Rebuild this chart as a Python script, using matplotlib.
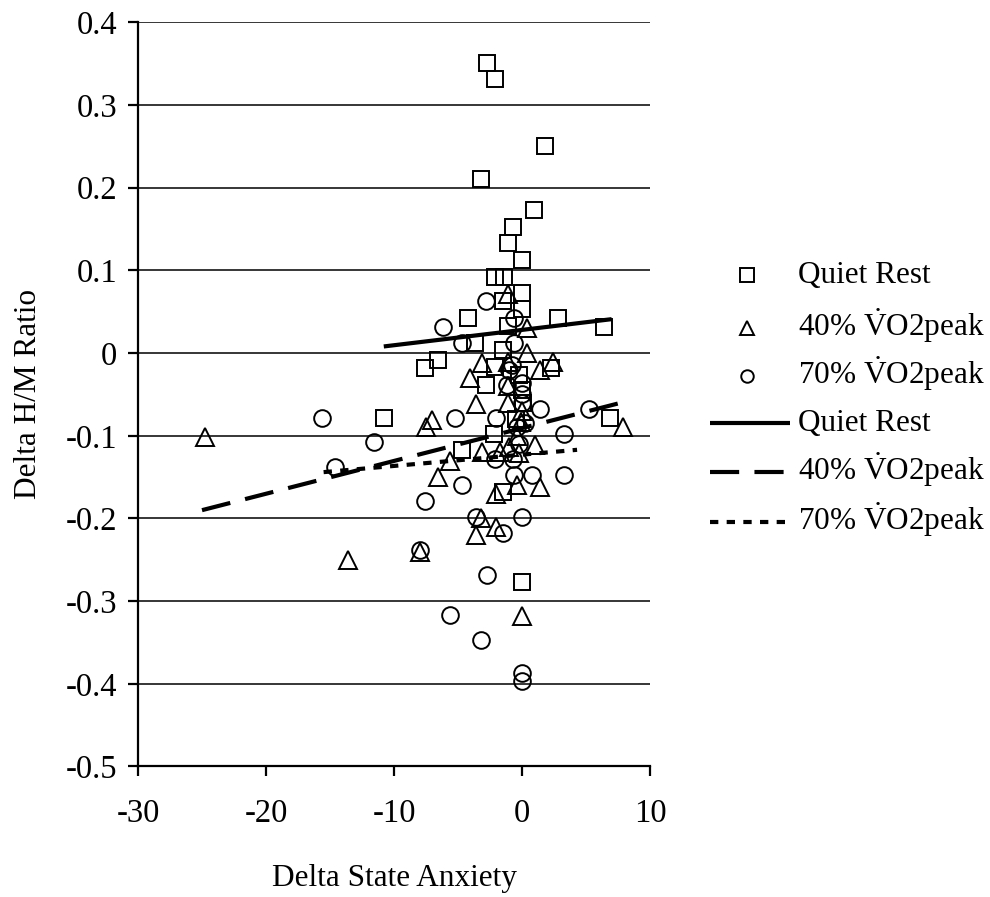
import numpy as np
import matplotlib
matplotlib.use("Agg")
import matplotlib.pyplot as plt
from matplotlib.lines import Line2D

plt.rcParams["font.family"] = ["Liberation Serif", "DejaVu Serif"]
plt.rcParams["mathtext.fontset"] = "custom"
plt.rcParams["mathtext.rm"] = "Liberation Serif"
plt.rcParams["mathtext.it"] = "Liberation Serif:italic"
plt.rcParams["lines.scale_dashes"] = False

# delta state anxiety (x) vs delta H/M ratio (y) per condition
rest_x = [-2.7, -2.1, -3.2, 1.8, 0.9, -0.7, -1.1, 0.0, -2.1, -1.4, 0.0, -1.5, 0.0,
          -4.2, 2.8, -1.1, 6.4, -3.7, -1.5, -6.6, -7.6, 2.3, -2.1, -2.8, -0.2,
          0.0, 0.1, -10.8, 6.9, -2.2, -4.7, -1.5, 0.0, -0.5]
rest_y = [0.351, 0.331, 0.210, 0.250, 0.173, 0.152, 0.133, 0.112, 0.092, 0.092,
          0.073, 0.063, 0.053, 0.042, 0.042, 0.033, 0.032, 0.012, 0.004, -0.008,
          -0.018, -0.018, -0.017, -0.039, -0.027, -0.045, -0.060, -0.079, -0.079,
          -0.098, -0.117, -0.168, -0.277, -0.080]

ex40_x = [-24.8, -13.6, 7.9, -8.0, 0.0, -3.6, -2.0, -3.2, -6.6, -5.6, -3.1, -2.0,
          -0.4, 1.4, -7.5, -7.0, 1.0, -1.0, -0.2, -1.1, 0.4, -3.1, 0.4, -4.1,
          -1.1, 1.4, 2.4, -3.6, -1.1, 0.0, -0.1, -0.4, -1.7, -1.1]
ex40_y = [-0.102, -0.250, -0.090, -0.240, -0.318, -0.220, -0.210, -0.200, -0.150,
          -0.130, -0.120, -0.170, -0.160, -0.162, -0.090, -0.081, -0.111, -0.113,
          -0.121, 0.071, 0.030, -0.012, 0.000, -0.030, -0.011, -0.020, -0.011,
          -0.061, -0.060, -0.070, -0.083, -0.100, -0.120, -0.040]

ex70_x = [-15.6, -11.6, -14.6, -7.6, -5.2, -4.7, -4.7, -2.8, -6.2, -0.6, -0.6,
          -0.8, -1.2, 0.0, -2.0, 1.4, 5.2, 3.3, 0.0, 0.0, 0.2, -0.4, -2.1, -0.7,
          -0.6, 0.8, 3.3, -3.6, 0.0, -1.5, -8.0, -2.7, -5.6, -3.2, 0.0, 0.0,
          -1.0, -0.2]
ex70_y = [-0.079, -0.108, -0.138, -0.179, -0.079, -0.160, 0.012, 0.063, 0.031,
          0.043, 0.012, -0.015, -0.039, -0.036, -0.079, -0.068, -0.068, -0.098,
          -0.050, -0.060, -0.085, -0.090, -0.128, -0.128, -0.148, -0.148, -0.148,
          -0.198, -0.198, -0.218, -0.238, -0.268, -0.317, -0.347, -0.387, -0.397,
          -0.020, -0.110]

# linear trend lines, endpoints (x0, x1), (y0, y1)
fit_rest_x, fit_rest_y = [-10.8, 7.0], [0.008, 0.041]
fit_40_x, fit_40_y = [-25.0, 8.0], [-0.190, -0.059]
fit_70_x, fit_70_y = [-15.5, 4.3], [-0.144, -0.117]

x_ticks = [-30, -20, -10, 0, 10]
y_ticks = [-0.5, -0.4, -0.3, -0.2, -0.1, 0, 0.1, 0.2, 0.3, 0.4]
y_ticklabels = ["-0.5", "-0.4", "-0.3", "-0.2", "-0.1", "0", "0.1", "0.2", "0.3", "0.4"]

vo2 = r"$\dot{\mathrm{V}}$O2peak"
labels = ["Quiet Rest", "40% " + vo2, "70% " + vo2]

FS = 22.5
W, H = 990, 897

fig = plt.figure(figsize=(9.9, 8.97), dpi=100)
ax = fig.add_axes([0.1394, 0.1455, 0.5172, 0.8296])

mk = dict(linestyle="none", markerfacecolor="none", markeredgecolor="black",
          markeredgewidth=1.4)
ax.plot(rest_x, rest_y, marker="s", markersize=11.5, **mk)
ax.plot(ex40_x, ex40_y, marker="^", markersize=13.5, **mk)
ax.plot(ex70_x, ex70_y, marker="o", markersize=12, **mk)

dash_40 = (21, 11)
dash_70 = (6, 6)
ax.plot(fit_rest_x, fit_rest_y, color="black", lw=3, solid_capstyle="butt")
ax.plot(fit_40_x, fit_40_y, color="black", lw=3, dashes=dash_40, dash_capstyle="butt")
ax.plot(fit_70_x, fit_70_y, color="black", lw=3, dashes=dash_70, dash_capstyle="butt")

ax.set_xlim(-30, 10)
ax.set_ylim(-0.5, 0.4)
ax.set_xticks(x_ticks)
ax.set_xticklabels([str(v) for v in x_ticks])
ax.set_yticks(y_ticks)
ax.set_yticklabels(y_ticklabels)
ax.yaxis.grid(True, color="black", lw=1.1)
ax.set_axisbelow(True)
for side in ("top", "right"):
    ax.spines[side].set_visible(False)
for side in ("left", "bottom"):
    ax.spines[side].set_linewidth(1.6)
ax.tick_params(labelsize=23.5, length=7, width=1.6, direction="out")
ax.tick_params(axis="x", pad=16)
ax.tick_params(axis="y", pad=8)

ax.set_xlabel("Delta State Anxiety", fontsize=FS, labelpad=25)
ax.set_ylabel("Delta H/M Ratio", fontsize=FS, labelpad=16)

# legend drawn row by row in figure pixels
handles = [
    dict(marker="s", markersize=9.5, **mk),
    dict(marker="^", markersize=10, **mk),
    dict(marker="o", markersize=9, **mk),
    dict(color="black", lw=3, solid_capstyle="butt"),
    dict(color="black", lw=3, dashes=dash_40, dash_capstyle="butt"),
    dict(color="black", lw=3, dashes=dash_70, dash_capstyle="butt"),
]
row_y = [275, 328, 376, 423, 472, 522]
for i, (style, label, y) in enumerate(zip(handles, labels + labels, row_y)):
    fy = 1 - y / H
    if i < 3:
        fig.add_artist(Line2D([747 / W], [fy], transform=fig.transFigure, **style))
    else:
        fig.add_artist(Line2D([710 / W, 790 / W], [fy, fy],
                              transform=fig.transFigure, **style))
    fig.text(798 / W, 1 - (y + 8) / H, label, fontsize=FS, va="baseline", ha="left")

fig.savefig("out.png", dpi=100)
